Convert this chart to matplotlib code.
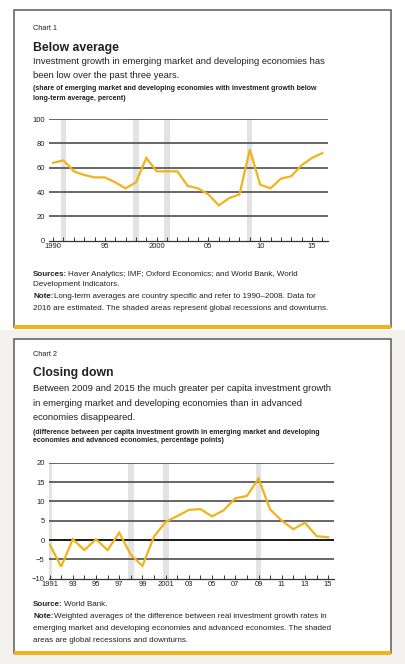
import matplotlib

matplotlib.use("Agg")
import matplotlib.pyplot as plt
from matplotlib.patches import Rectangle

plt.rcParams["font.family"] = ["Liberation Sans", "DejaVu Sans"]

# Chart 1: share of EMDEs with investment growth below long-term average (percent)
years1 = list(range(1990, 2017))
share_below = [64, 66, 57, 54, 52, 52, 48, 43, 48, 68, 57, 57, 57, 45, 43, 38,
               29, 35, 38, 75, 46, 43, 51, 53, 62, 68, 72]
xlabels1 = {1990: "1990", 1995: "95", 2000: "2000", 2005: "05", 2010: "10", 2015: "15"}

# Chart 2: per capita investment growth gap, EMDE minus advanced (pp)
years2 = list(range(1991, 2016))
growth_gap = [-1.1, -6.9, 0.2, -2.6, 0.2, -2.6, 1.9, -3.8, -6.7, 0.9, 4.7, 6.2, 7.8,
              8.0, 6.1, 7.7, 10.8, 11.4, 15.9, 7.9, 5.0, 2.8, 4.5, 1.0, 0.7]
xlabels2 = {1991: "1991", 1993: "93", 1995: "95", 1997: "97", 1999: "99", 2001: "2001",
            2003: "03", 2005: "05", 2007: "07", 2009: "09", 2011: "11", 2013: "13",
            2015: "15"}

recessions = [1991, 1998, 2001, 2009]

W, H = 405, 664
GOLD = "#f0b31a"
BORDER = "#5a5a5a"
GRID = "#4d4d4d"
BAND = "#e3e3e3"
TEXT = "#231f20"

fig = plt.figure(figsize=(W / 100, H / 100), dpi=100)
fig.patch.set_facecolor("white")
renderer = fig.canvas.get_renderer()


def px_axes(left, top, right, bottom):
    ax = fig.add_axes([left / W, 1 - bottom / H, (right - left) / W, (bottom - top) / H])
    ax.set_zorder(5)
    return ax


def txt(x, y, s, size, weight="normal", **kw):
    return fig.text(x / W, 1 - y / H, s, fontsize=size, fontweight=weight, color=TEXT,
                    ha="left", va="center", **kw)


def lead_txt(x, y, lead, rest, size):
    t = txt(x, y, lead, size, "bold")
    w = t.get_window_extent(renderer).width
    txt(x + w + 1, y, rest, size)


def box(top, bottom):
    fig.patches.append(Rectangle((14 / W, 1 - bottom / H), (391 - 14) / W, (bottom - top) / H,
                                 transform=fig.transFigure, facecolor="white",
                                 edgecolor=BORDER, linewidth=1.1, zorder=0))
    fig.patches.append(Rectangle((14 / W, 1 - (bottom + 1.5) / H), (391 - 14) / W, 3.5 / H,
                                 transform=fig.transFigure, facecolor=GOLD,
                                 edgecolor="none", zorder=1))


# light backdrop behind the lower panel
fig.patches.append(Rectangle((0, 0), 1, 1 - 330 / H, transform=fig.transFigure,
                             facecolor="#f3f2ef", edgecolor="none", zorder=-1))

box(10, 327)
box(339, 653)


def style(ax, ymin, ymax, yticks, xlim, labels):
    ax.set_facecolor("none")
    ax.set_xlim(*xlim)
    ax.set_ylim(ymin, ymax)
    for sp in ["top", "right", "left"]:
        ax.spines[sp].set_visible(False)
    ax.spines["bottom"].set_color("#333333")
    ax.spines["bottom"].set_linewidth(0.9)
    ax.set_yticks(yticks)
    ax.set_yticklabels([f"{v:g}".replace("-", "\u2212") for v in yticks])
    for v in yticks[1:]:
        ax.axhline(v, color=GRID, linewidth=1.2, zorder=2)
    ax.tick_params(axis="y", length=0, labelsize=5.5, pad=3, labelcolor=TEXT)
    ax.tick_params(axis="x", direction="in", length=3, width=0.7, color="#333333",
                   labelsize=5.5, pad=2, labelcolor=TEXT)
    ax.set_xticks(list(range(int(xlim[0] + 0.6), int(xlim[1]) + 1)))
    ax.set_xticklabels([labels.get(t, "") for t in ax.get_xticks().astype(int)])
    for yr in recessions:
        ax.axvspan(yr - 0.25, yr + 0.25, color=BAND, linewidth=0, zorder=1)


# ---- Chart 1 ----
txt(33, 29, "Chart 1", 5.3)
txt(33, 48, "Below average", 8.8, "bold")
txt(33, 62, "Investment growth in emerging market and developing economies has", 6.75)
txt(33, 75, "been low over the past three years.", 6.75)
txt(33, 89, "(share of emerging market and developing economies with investment growth below", 5.0, "bold")
txt(33, 98, "long-term average, percent)", 5.0, "bold")

ax1 = px_axes(49, 119, 328, 240.7)
style(ax1, 0, 100, [0, 20, 40, 60, 80, 100], (1989.6, 2016.55), xlabels1)
ax1.plot(years1, share_below, color=GOLD, linewidth=1.6, zorder=3, solid_joinstyle="miter")

lead_txt(33, 275, "Sources:", "Haver Analytics; IMF; Oxford Economics; and World Bank, World", 5.8)
txt(33, 284, "Development Indicators.", 5.8)
lead_txt(33, 297, "Note:", "Long-term averages are country specific and refer to 1990\u20132008. Data for", 5.8)
txt(33, 309, "2016 are estimated. The shaded areas represent global recessions and downturns.", 5.8)

# ---- Chart 2 ----
txt(33, 355, "Chart 2", 5.3)
txt(33, 373, "Closing down", 8.8, "bold")
txt(33, 388, "Between 2009 and 2015 the much greater per capita investment growth", 6.75)
txt(33, 403, "in emerging market and developing economies than in advanced", 6.75)
txt(33, 418, "economies disappeared.", 6.75)
txt(33, 432, "(difference between per capita investment growth in emerging market and developing", 5.0, "bold")
txt(33, 441, "economies and advanced economies, percentage points)", 5.0, "bold")

ax2 = px_axes(49, 462.7, 334, 578.7)
style(ax2, -10, 20, [-10, -5, 0, 5, 10, 15, 20], (1990.95, 2015.5), xlabels2)
ax2.axhline(0, color="#111111", linewidth=1.2, zorder=2)
ax2.plot(years2, growth_gap, color=GOLD, linewidth=1.6, zorder=3, solid_joinstyle="miter")

lead_txt(33, 605, "Source:", "World Bank.", 5.8)
lead_txt(33, 617, "Note:", "Weighted averages of the difference between real investment growth rates in", 5.8)
txt(33, 628, "emerging market and developing economies and advanced economies. The shaded", 5.8)
txt(33, 640, "areas are global recessions and downturns.", 5.8)

fig.savefig("out.png", dpi=100)
